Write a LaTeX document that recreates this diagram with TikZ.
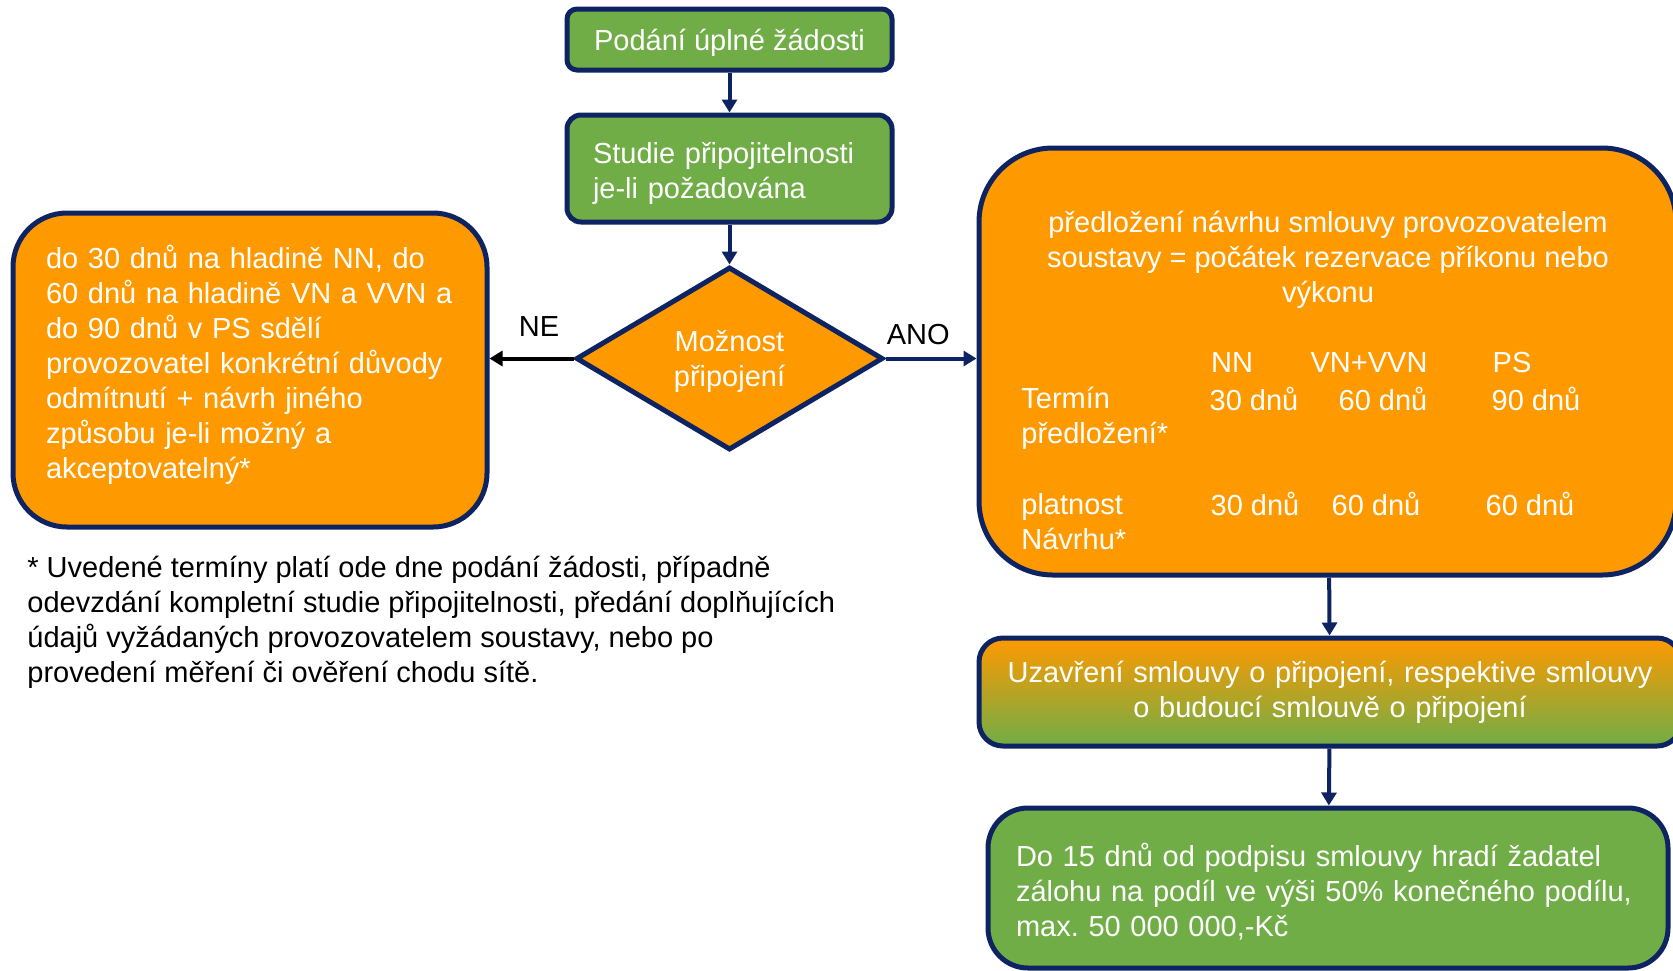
\documentclass[tikz,border=0pt]{standalone}
\usepackage{fontspec}
\setmainfont{Liberation Sans}
\usetikzlibrary{arrows.meta, shapes.geometric}
\definecolor{navy}{HTML}{0E2362}
\definecolor{leafgreen}{HTML}{70AD47}
\definecolor{amber}{HTML}{FF9900}
\definecolor{sand}{HTML}{D5BF6E}

\begin{document}
\begin{tikzpicture}[
  x = 0.5pt,
  y = -0.5pt,
  font = \fontsize{14.5pt}{17.5pt}\selectfont,
  >= {Triangle[length = 6.5pt, width = 7.5pt]},
  box/.style = {
    shape = rectangle,
    draw = navy,
    line width = 2.5pt,
    text = white,
    inner sep = 0pt,
  },
  txt/.style = {
    text = white,
    inner sep = 0pt,
  }
]
  \useasboundingbox (0, 0) rectangle (1673, 970);

  \node[box, fill = leafgreen, rounded corners = 5pt, minimum width = 162.5pt, minimum height = 30.5pt, text depth = 0pt] (start) at (729.5, 39.5) {Podání úplné žádosti};
  \node[box, fill = leafgreen, rounded corners = 7pt, minimum width = 162.5pt, minimum height = 53.5pt, text width = 136.5pt, text depth = 16pt, align = left] (study) at (729.5, 168.5) {Studie připojitelnosti\\je-li požadována};
  \node[box, shape = diamond, fill = amber, aspect = 1.68, minimum width = 153.5pt, minimum height = 91.5pt, text depth = 0pt, align = center] (decision) at (729.5, 358.5) {Možnost\\připojení};
  \node[box, fill = amber, rounded corners = 27pt, minimum width = 237pt, minimum height = 157pt, text width = 204pt, text depth = 113.5pt, align = left] (refuse) at (250, 370) {do 30 dnů na hladině NN, do\\60 dnů na hladině VN a VVN a\\do 90 dnů v PS sdělí\\provozovatel konkrétní důvody\\odmítnutí + návrh jiného\\způsobu je-li možný a\\akceptovatelný*};
  \node[box, fill = amber, rounded corners = 37pt, minimum width = 348.5pt, minimum height = 213.5pt] (offer) at (1327.5, 361.5) {};
  \node[box, top color = amber, middle color = sand, bottom color = leafgreen, rounded corners = 12pt, minimum width = 351pt, minimum height = 54pt, text width = 340pt, align = center] (contract) at (1330, 692) {Uzavření smlouvy o připojení, respektive smlouvy\\o budoucí smlouvě o připojení};
  \node[box, fill = leafgreen, rounded corners = 20pt, minimum width = 340pt, minimum height = 80pt, text width = 312pt, text depth = 33pt, align = left] (deposit) at (1328, 888) {Do 15 dnů od podpisu smlouvy hradí žadatel\\zálohu na podíl ve výši 50\% konečného podílu,\\max.\ 50 000 000,-Kč};

  \node[txt, align = center] (offertitle) at (1328, 260) {předložení návrhu smlouvy provozovatelem\\soustavy = počátek rezervace příkonu nebo\\výkonu};
  \node[txt] (headnn) at (1232, 363) {NN};
  \node[txt] (headvn) at (1369, 363) {VN+VVN};
  \node[txt] (headps) at (1512, 363) {PS};
  \node[txt, anchor = west, align = left] (termlabel) at (1021, 418) {Termín\\předložení*};
  \node[txt] (termnn) at (1254, 399) {30 dnů};
  \node[txt] (termvn) at (1383, 399) {60 dnů};
  \node[txt] (termps) at (1536, 399) {90 dnů};
  \node[txt, anchor = west, align = left] (validlabel) at (1021, 522) {platnost\\Návrhu*};
  \node[txt] (validnn) at (1255, 504) {30 dnů};
  \node[txt] (validvn) at (1376, 504) {60 dnů};
  \node[txt] (validps) at (1530, 504) {60 dnů};

  \node[anchor = west, inner sep = 0pt, align = left] (note) at (27, 622.5) {* Uvedené termíny platí ode dne podání žádosti, případně\\odevzdání kompletní studie připojitelnosti, předání doplňujících\\údajů vyžádaných provozovatelem soustavy, nebo po\\provedení měření či ověření chodu sítě.};

  \begin{scope}[
    every path/.style = {->, line width = 2pt, navy},
    every node/.style = {inner sep = 0pt, text = black}
  ]
    \draw (start) -- (study);
    \draw (study) -- (decision);
    \draw[black] (decision.west) -- (decision.west -| refuse.east) node[pos = 0.41, above = 10pt] {NE};
    \draw (decision.east) -- (decision.east -| offer.west) node[pos = 0.36, above = 6pt] {ANO};
    \draw (offer) -- (contract);
    \draw (contract) -- (deposit);
  \end{scope}
\end{tikzpicture}
\end{document}
